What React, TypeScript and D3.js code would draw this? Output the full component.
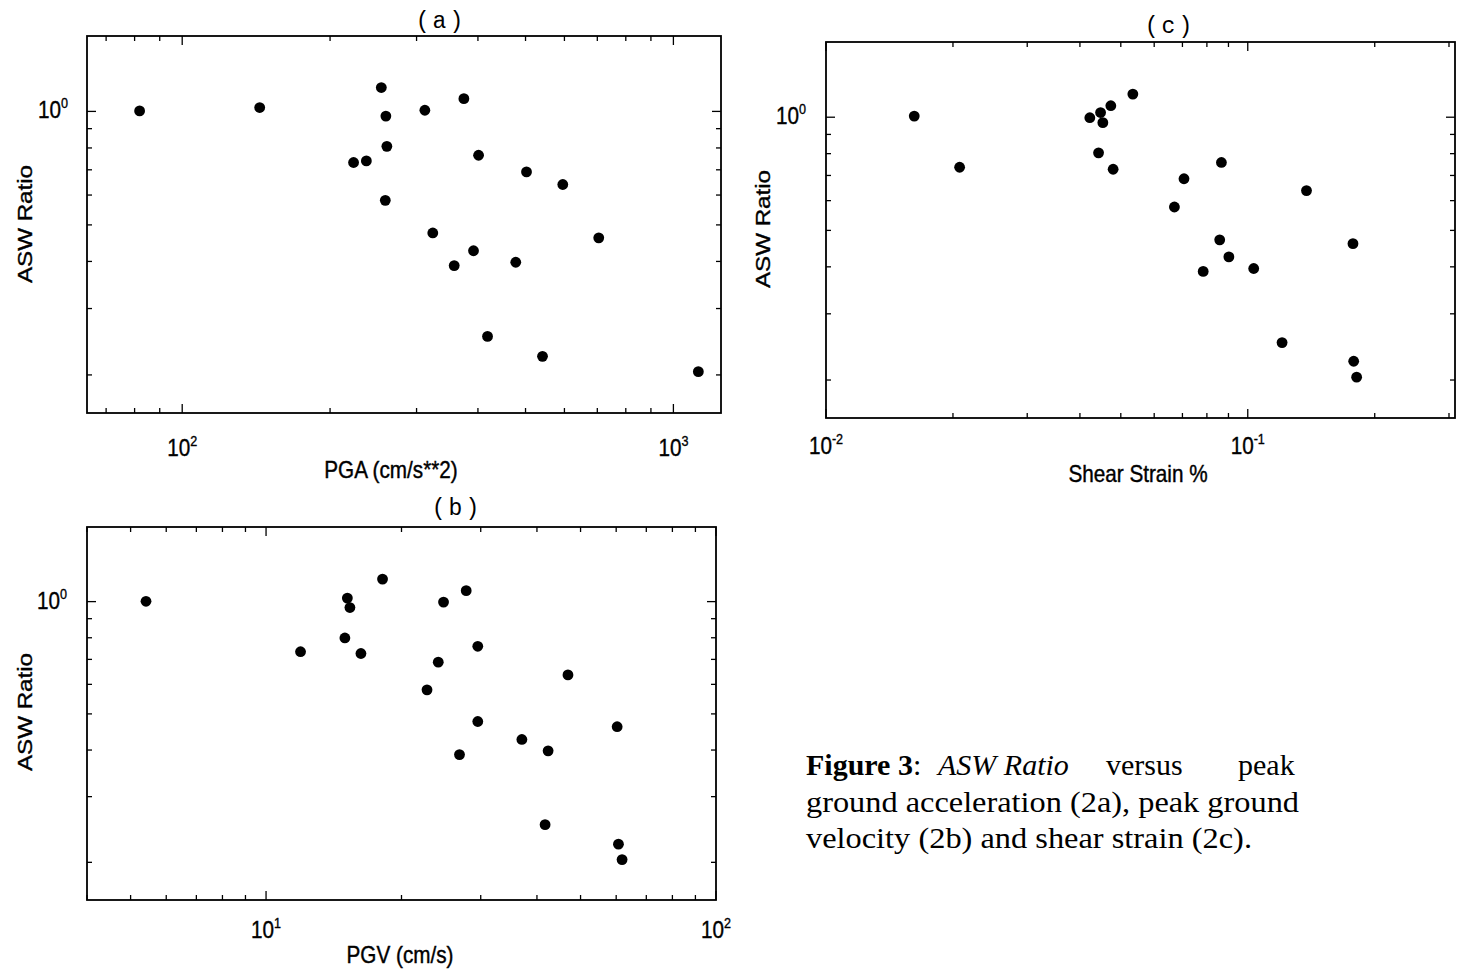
import React from "react";
import * as d3 from "d3";

// ---------- data ----------
const pgaValues = [81.9, 143.8, 254.3, 374.5, 311.9, 259.8, 261, 223.3, 237.1, 401.2, 502.3, 595.4, 259.1, 323.7, 704.7, 391.8, 357.9, 477.6, 418.4, 541.4, 1124];
const aswRatioA = [1.003, 1.024, 1.157, 1.081, 1.007, 0.972, 0.808, 0.732, 0.739, 0.765, 0.691, 0.64, 0.581, 0.476, 0.462, 0.427, 0.39, 0.398, 0.253, 0.224, 0.204];

const pgvValues = [5.41, 18.15, 27.85, 15.16, 15.36, 24.8, 14.97, 11.93, 16.25, 29.55, 24.14, 46.88, 22.79, 29.55, 60.3, 37.03, 26.91, 42.35, 41.7, 60.7, 61.84];
const aswRatioB = [1.002, 1.149, 1.07, 1.022, 0.964, 0.997, 0.799, 0.734, 0.726, 0.759, 0.688, 0.636, 0.58, 0.477, 0.462, 0.427, 0.389, 0.398, 0.2524, 0.2237, 0.2034];

const strainValues = [0.01619, 0.02074, 0.0534, 0.04735, 0.04477, 0.04222, 0.04533, 0.04428, 0.04795, 0.0866, 0.0706, 0.1378, 0.067, 0.0858, 0.1776, 0.0902, 0.0784, 0.1033, 0.1206, 0.1783, 0.1812];
const aswRatioC = [1.007, 0.736, 1.152, 1.073, 1.029, 0.997, 0.967, 0.804, 0.727, 0.758, 0.686, 0.638, 0.577, 0.472, 0.461, 0.425, 0.389, 0.396, 0.2515, 0.2244, 0.2035];

const yDomain: [number, number] = [0.1585, 1.585];
const pgaDomain: [number, number] = [64, 1250];
const pgvDomain: [number, number] = [4, 100];
const strainDomain: [number, number] = [0.01, 0.31];

const panelTitles = ["(a)", "(b)", "(c)"];
const xLabels = ["PGA (cm/s**2)", "PGV (cm/s)", "Shear Strain %"];
const yLabel = "ASW Ratio";

const SANS = "'Liberation Sans', Arial, Helvetica, sans-serif";
const MONO = "'Liberation Mono', 'Courier New', monospace";
const SERIF = "'Liberation Serif', 'Times New Roman', Times, serif";

type PanelProps = {
  left: number; right: number; top: number; bottom: number;
  xDomain: [number, number]; xs: number[]; ys: number[];
  title: string; titleX: number; titleY: number;
  xLabel: string; xLabelX: number; xLabelY: number;
  yLabelX: number; yLabelY: number;
  xTickBaseline: number; yTickGap: number;
};

const isMajor = (v: number) => Math.abs(Math.log10(v) - Math.round(Math.log10(v))) < 1e-6;

function Panel(p: PanelProps) {
  const x = d3.scaleLog().domain(p.xDomain).range([p.left, p.right]);
  const y = d3.scaleLog().domain(yDomain).range([p.bottom, p.top]);
  const xt = x.ticks();
  const yt = y.ticks();
  const maj = 9, min = 5;
  const sx = 0.9;
  return (
    <g>
      <rect x={p.left} y={p.top} width={p.right - p.left} height={p.bottom - p.top} fill="none" stroke="#000" strokeWidth={1.8} />
      {xt.map((v, i) => {
        const L = isMajor(v) ? maj : min;
        return (
          <g key={"xt" + i}>
            <line x1={x(v)} x2={x(v)} y1={p.bottom} y2={p.bottom - L} stroke="#000" strokeWidth={1.3} />
            <line x1={x(v)} x2={x(v)} y1={p.top} y2={p.top + L} stroke="#000" strokeWidth={1.3} />
          </g>
        );
      })}
      {yt.map((v, i) => {
        const L = isMajor(v) ? maj : min;
        return (
          <g key={"yt" + i}>
            <line x1={p.left} x2={p.left + L} y1={y(v)} y2={y(v)} stroke="#000" strokeWidth={1.3} />
            <line x1={p.right} x2={p.right - L} y1={y(v)} y2={y(v)} stroke="#000" strokeWidth={1.3} />
          </g>
        );
      })}
      {xt.filter(isMajor).map((v, i) => (
        <g key={"xl" + i} transform={`translate(${x(v)},${p.xTickBaseline}) scale(${sx},1)`}>
          <text x={0} y={0} textAnchor="middle" fontFamily={SANS} fontSize={23} fill="#000" stroke="#000" strokeWidth={0.35}>
            10<tspan dy={-10} fontSize={14}>{Math.round(Math.log10(v))}</tspan>
          </text>
        </g>
      ))}
      {yt.filter(isMajor).map((v, i) => (
        <g key={"yl" + i} transform={`translate(${p.left - p.yTickGap},${y(v) + 7}) scale(${sx},1)`}>
          <text x={0} y={0} textAnchor="end" fontFamily={SANS} fontSize={23} fill="#000" stroke="#000" strokeWidth={0.35}>
            10<tspan dy={-10} fontSize={14}>{Math.round(Math.log10(v))}</tspan>
          </text>
        </g>
      ))}
      {p.xs.map((v, i) => (
        <circle key={"pt" + i} cx={x(v)} cy={y(p.ys[i])} r={5.4} fill="#000" />
      ))}
      <text x={p.titleX} y={p.titleY} textAnchor="middle" fontFamily={MONO} fontSize={23} letterSpacing={3} fill="#000">{p.title}</text>
      <g transform={`translate(${p.xLabelX},${p.xLabelY}) scale(${sx},1)`}>
        <text x={0} y={0} textAnchor="middle" fontFamily={SANS} fontSize={23} fill="#000" stroke="#000" strokeWidth={0.4}>{p.xLabel}</text>
      </g>
      <g transform={`translate(${p.yLabelX},${p.yLabelY}) rotate(-90) scale(1.05,${sx})`}>
        <text x={0} y={0} textAnchor="middle" fontFamily={SANS} fontSize={23} fill="#000" stroke="#000" strokeWidth={0.4}>{yLabel}</text>
      </g>
    </g>
  );
}

export default function App() {
  return (
    <svg width={1468} height={971} viewBox="0 0 1468 971" style={{ position: "absolute", left: 0, top: 0, background: "#fff" }}>
      <rect x={0} y={0} width={1468} height={971} fill="#fff" />
      <Panel left={87} right={721} top={36} bottom={413} xDomain={pgaDomain} xs={pgaValues} ys={aswRatioA}
        title={panelTitles[0]} titleX={441} titleY={28}
        xLabel={xLabels[0]} xLabelX={391} xLabelY={478}
        yLabelX={32} yLabelY={224} xTickBaseline={456} yTickGap={19} />
      <Panel left={87} right={716} top={527} bottom={900} xDomain={pgvDomain} xs={pgvValues} ys={aswRatioB}
        title={panelTitles[1]} titleX={457} titleY={515}
        xLabel={xLabels[1]} xLabelX={400} xLabelY={963}
        yLabelX={32} yLabelY={712} xTickBaseline={938} yTickGap={20} />
      <Panel left={826} right={1455} top={42} bottom={418} xDomain={strainDomain} xs={strainValues} ys={aswRatioC}
        title={panelTitles[2]} titleX={1170} titleY={33}
        xLabel={xLabels[2]} xLabelX={1138} xLabelY={482}
        yLabelX={770} yLabelY={229} xTickBaseline={454} yTickGap={20} />
      <g fontFamily={SERIF} fontSize={30} fill="#000">
        <text x={806} y={775}>
          <tspan fontWeight="bold">Figure 3</tspan>
          <tspan>:</tspan>
        </text>
        <text x={938} y={775} fontStyle="italic">ASW Ratio</text>
        <text x={1106} y={775}>versus</text>
        <text x={1238} y={775}>peak</text>
        <text x={806} y={812} textLength={493} lengthAdjust="spacingAndGlyphs">ground acceleration (2a), peak ground</text>
        <text x={806} y={848} textLength={446} lengthAdjust="spacingAndGlyphs">velocity (2b) and shear strain (2c).</text>
      </g>
    </svg>
  );
}
